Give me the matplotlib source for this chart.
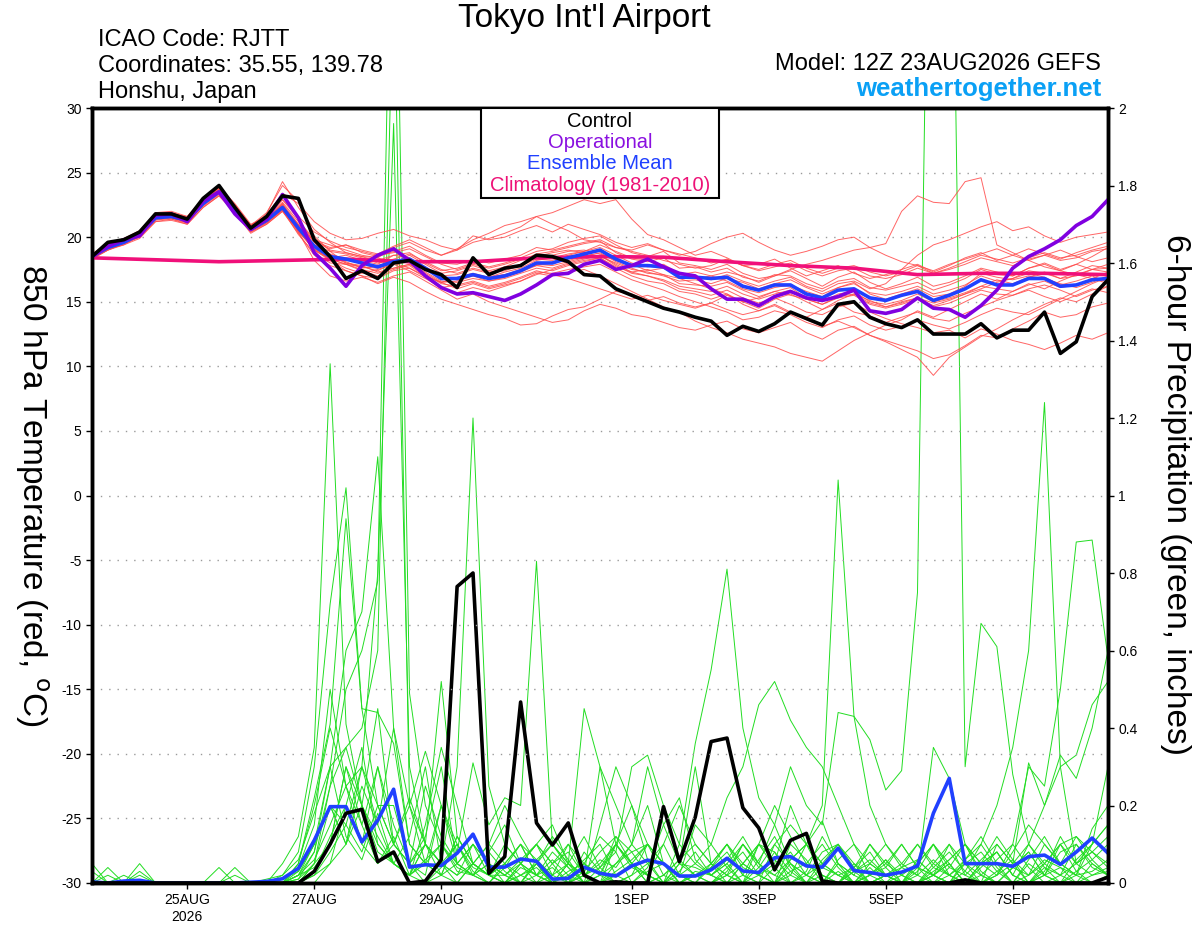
import matplotlib
matplotlib.use('Agg')
import matplotlib.pyplot as plt
from matplotlib.patches import Rectangle
from datetime import datetime, timedelta

plt.rcParams['font.family'] = ['Liberation Sans', 'DejaVu Sans']
plt.rcParams['axes.unicode_minus'] = False

# 6-hourly forecast times, 12Z 23AUG2026 -> 12Z 08SEP2026
start = datetime(2026, 8, 23, 12)
times = [start + timedelta(hours=6 * k) for k in range(65)]

tick_dates = [datetime(2026, 8, 25), datetime(2026, 8, 27), datetime(2026, 8, 29),
              datetime(2026, 9, 1), datetime(2026, 9, 3), datetime(2026, 9, 5),
              datetime(2026, 9, 7)]
tick_labels = ['25AUG\n2026', '27AUG', '29AUG', '1SEP', '3SEP', '5SEP', '7SEP']

# 850 hPa temperature (C)
control_t = [18.5, 19.6, 19.8, 20.4, 21.8, 21.8, 21.4, 23.0, 24.0, 22.3, 20.7, 21.6, 23.2,
             23.0, 19.8, 18.5, 16.8, 17.4, 16.8, 18.0, 18.2, 17.5, 17.1, 16.1, 18.4, 17.1,
             17.6, 17.8, 18.6, 18.5, 18.1, 17.1, 17.0, 16.0, 15.5, 15.0, 14.5, 14.2, 13.8,
             13.5, 12.4, 13.1, 12.7, 13.3, 14.2, 13.7, 13.2, 14.8, 15.0, 13.8, 13.3, 13.0,
             13.6, 12.5, 12.5, 12.5, 13.3, 12.2, 12.8, 12.8, 14.2, 11.0, 11.9, 15.4, 16.7]
oper_t = [18.5, 19.3, 19.8, 20.1, 21.7, 21.8, 21.2, 22.8, 23.5, 21.8, 20.6, 21.4, 23.3,
          21.5, 18.8, 17.6, 16.2, 17.8, 18.6, 19.1, 18.2, 17.0, 16.1, 15.6, 15.7, 15.4,
          15.1, 15.6, 16.3, 17.1, 17.2, 17.9, 18.2, 17.5, 17.8, 18.3, 17.7, 17.2, 17.0,
          16.0, 15.2, 15.2, 14.7, 15.4, 15.8, 15.3, 15.1, 15.4, 15.9, 14.3, 14.1, 14.4,
          15.3, 14.5, 14.4, 13.8, 14.7, 15.9, 17.6, 18.5, 19.1, 19.8, 20.9, 21.6, 22.9]
mean_t = [18.5, 19.2, 19.6, 20.2, 21.5, 21.6, 21.3, 22.6, 23.5, 22.2, 20.6, 21.3, 22.3,
          20.7, 19.3, 18.5, 18.3, 18.0, 17.7, 18.1, 18.3, 17.6, 16.8, 16.8, 17.1, 16.8,
          17.0, 17.4, 18.0, 18.0, 18.4, 18.7, 19.0, 18.3, 17.8, 17.8, 17.7, 16.9, 16.9,
          16.8, 16.9, 16.2, 15.9, 16.3, 16.3, 15.6, 15.3, 15.9, 16.0, 15.3, 15.1, 15.5,
          15.8, 15.1, 15.5, 16.0, 16.7, 16.3, 16.3, 16.8, 16.8, 16.2, 16.3, 16.7, 16.8]
# daily climatology
clim_t = [18.4, 18.25, 18.1, 18.2, 18.3, 18.1, 18.1, 18.4, 18.5, 18.45, 18.1, 17.8,
          17.6, 17.1, 17.2, 17.2, 17.1]

member_t = [
    [18.3, 19.0, 19.5, 20.0, 21.2, 21.4, 21.0, 22.3, 23.2, 22.0, 20.4, 21.0, 22.0,
     20.5, 19.0, 18.4, 18.6, 18.2, 17.9, 18.6, 18.8, 18.0, 17.4, 17.6, 18.0, 17.7,
     18.0, 18.4, 18.9, 19.1, 19.6, 19.9, 20.1, 19.4, 18.8, 18.5, 18.9, 18.0, 17.8,
     17.5, 17.9, 17.2, 16.8, 17.0, 17.4, 16.8, 16.2, 16.9, 17.3, 16.5, 16.0, 16.4,
     16.9, 16.2, 16.5, 17.0, 17.6, 17.3, 17.0, 17.6, 17.9, 17.4, 17.1, 17.5, 17.9],
    [18.6, 19.4, 19.8, 20.4, 21.7, 21.8, 21.5, 22.8, 23.7, 22.4, 20.8, 21.5, 22.6,
     20.4, 18.2, 17.0, 16.6, 16.9, 16.5, 17.0, 17.3, 16.6, 15.9, 15.2, 15.6, 15.0,
     14.6, 14.2, 13.8, 13.4, 13.6, 14.3, 14.8, 14.5, 14.0, 13.8, 13.4, 13.0, 12.8,
     13.2, 13.5, 12.9, 12.6, 13.0, 13.4, 12.6, 12.1, 12.8, 13.1, 12.4, 12.0, 11.6,
     11.2, 10.6, 10.9, 11.6, 12.4, 12.2, 12.9, 13.5, 14.2, 13.8, 14.0, 14.6, 14.9],
    [18.4, 19.1, 19.4, 20.1, 21.4, 21.4, 21.1, 22.5, 23.4, 22.0, 20.5, 21.2, 22.4,
     21.0, 19.8, 19.4, 19.0, 18.6, 18.4, 19.2, 19.6, 19.0, 18.6, 19.1, 19.8, 20.3,
     20.9, 21.2, 21.6, 21.9, 22.4, 22.9, 22.6, 22.9, 21.4, 20.2, 19.8, 19.2, 18.6,
     18.9, 18.4, 17.8, 17.9, 18.3, 17.6, 17.0, 17.4, 17.8, 17.2, 16.8, 17.1, 17.5,
     17.9, 17.3, 17.8, 18.4, 18.8, 18.2, 18.6, 19.1, 18.7, 18.3, 18.8, 19.2, 19.6],
    [18.7, 19.5, 19.9, 20.5, 21.9, 22.0, 21.6, 23.0, 23.9, 22.6, 21.0, 21.6, 22.9,
     21.4, 19.6, 18.2, 17.4, 17.0, 16.4, 16.9, 16.5, 15.8, 15.2, 14.8, 14.4, 14.0,
     13.7, 13.2, 13.3, 13.9, 14.4, 14.6, 15.2, 15.8, 15.6, 15.1, 15.4, 14.9, 14.6,
     14.9, 15.5, 15.0, 14.5, 15.2, 15.6, 15.0, 14.4, 15.1, 15.6, 15.1, 14.6, 14.9,
     15.3, 14.7, 15.1, 15.6, 16.2, 16.7, 16.4, 16.9, 17.3, 16.8, 17.0, 17.5, 17.6],
    [18.5, 19.3, 19.7, 20.3, 21.6, 21.7, 21.4, 22.7, 23.6, 22.3, 20.6, 21.4, 22.5,
     20.9, 19.4, 18.9, 18.7, 18.4, 18.0, 18.3, 18.7, 18.1, 17.5, 17.2, 17.6, 17.3,
     17.5, 17.9, 18.4, 18.6, 18.9, 19.0, 18.7, 18.2, 17.9, 17.4, 17.6, 17.2, 16.8,
     17.0, 17.3, 17.0, 16.5, 17.0, 17.5, 17.9, 18.2, 18.6, 19.0, 19.2, 19.5, 22.0,
     23.2, 22.7, 22.6, 24.3, 24.6, 19.4, 18.8, 18.2, 17.7, 17.4, 17.9, 17.5, 17.3],
    [18.4, 19.2, 19.6, 20.2, 21.5, 21.5, 21.2, 22.6, 23.5, 22.1, 20.5, 21.1, 22.1,
     20.2, 18.8, 18.0, 17.9, 17.4, 17.0, 17.5, 17.8, 17.0, 16.5, 16.0, 16.4, 16.0,
     16.3, 16.6, 17.2, 17.0, 17.3, 17.5, 17.0, 16.4, 15.8, 15.2, 14.6, 14.2, 13.5,
     13.0, 12.6, 12.1, 11.8, 11.5, 11.0, 10.7, 10.4, 11.2, 12.0, 12.6, 13.2, 13.6,
     14.3, 13.8, 14.4, 15.0, 15.6, 15.2, 15.8, 16.4, 16.0, 16.6, 17.1, 16.8, 17.3],
    [18.6, 19.3, 19.7, 20.3, 21.6, 21.7, 21.4, 22.6, 23.4, 22.3, 20.7, 21.4, 22.4,
     20.8, 19.2, 18.6, 18.1, 17.6, 17.8, 18.2, 18.0, 17.2, 16.5, 16.6, 17.0, 16.6,
     16.8, 17.2, 17.6, 17.4, 17.8, 18.1, 18.4, 17.6, 17.0, 16.6, 16.4, 15.8, 15.6,
     15.2, 15.6, 14.8, 14.3, 14.8, 14.2, 13.6, 13.1, 13.5, 13.0, 12.4, 11.9, 11.3,
     10.7, 9.3, 10.7, 11.5, 12.3, 12.9, 13.6, 14.2, 14.8, 15.3, 15.0, 15.6, 16.2],
    [18.5, 19.2, 19.6, 20.3, 21.5, 21.7, 21.3, 22.6, 23.5, 22.2, 20.7, 21.3, 22.3,
     20.9, 19.7, 19.2, 19.4, 18.8, 18.5, 18.9, 19.3, 18.6, 18.0, 17.9, 18.3, 18.0,
     18.3, 18.6, 19.2, 19.0, 19.3, 19.6, 19.8, 19.2, 19.0, 19.4, 19.0, 18.6, 18.9,
     19.5, 20.0, 20.3, 19.6, 19.0, 18.6, 18.9, 19.3, 19.8, 20.0, 19.2, 18.6, 18.1,
     17.8, 17.4, 17.9, 18.3, 18.7, 19.1, 18.6, 18.2, 18.6, 19.0, 18.5, 18.1, 18.4],
    [18.4, 19.0, 19.5, 20.0, 21.3, 21.5, 21.2, 22.4, 23.3, 22.1, 20.5, 21.2, 22.2,
     20.6, 19.0, 18.2, 17.6, 17.2, 17.5, 17.9, 17.4, 16.8, 16.1, 16.3, 16.6, 16.2,
     16.5, 16.9, 17.4, 17.1, 16.8, 16.4, 16.0, 15.6, 15.2, 15.5, 15.1, 14.8, 14.5,
     14.9, 14.4, 14.0, 14.3, 14.7, 14.1, 13.8, 14.4, 14.9, 14.2, 13.9, 13.4, 13.8,
     14.2, 13.7, 13.5, 14.1, 14.6, 15.1, 15.5, 15.9, 15.4, 15.0, 15.5, 16.0, 15.7],
    [18.6, 19.4, 19.9, 20.4, 21.7, 21.9, 21.5, 22.8, 23.8, 22.4, 20.9, 21.6, 22.7,
     21.2, 19.9, 19.0, 18.8, 18.5, 18.1, 18.0, 18.6, 17.9, 17.2, 17.4, 17.8, 17.4,
     17.7, 18.2, 18.7, 18.9, 19.2, 19.5, 19.7, 18.8, 18.3, 18.1, 18.4, 17.6, 17.7,
     17.3, 17.6, 16.9, 16.6, 17.1, 17.0, 16.4, 16.0, 16.6, 16.8, 16.1, 15.9, 16.2,
     16.5, 15.9, 16.3, 16.8, 17.5, 17.1, 17.0, 17.6, 18.0, 17.5, 17.9, 18.5, 19.2],
    [18.5, 19.3, 19.7, 20.2, 21.5, 21.6, 21.3, 22.7, 23.6, 22.3, 20.6, 21.3, 22.4,
     20.7, 19.4, 18.7, 18.3, 18.0, 18.2, 18.6, 18.4, 17.7, 17.0, 17.1, 17.5, 17.2,
     17.4, 17.8, 18.3, 18.2, 18.6, 18.9, 19.2, 18.6, 18.0, 17.7, 17.9, 17.2, 17.0,
     16.7, 17.1, 16.6, 16.2, 16.6, 16.9, 16.2, 15.8, 16.4, 16.6, 16.0, 16.4, 17.5,
     18.6, 19.4, 19.8, 20.3, 20.8, 21.2, 20.5, 20.8, 20.1, 19.6, 20.0, 20.2, 20.4],
    [18.4, 19.1, 19.5, 20.1, 21.4, 21.5, 21.1, 22.5, 23.4, 22.1, 20.4, 21.1, 22.1,
     20.4, 19.1, 18.5, 18.0, 17.8, 17.3, 17.6, 17.9, 17.3, 16.6, 16.5, 16.8, 16.6,
     16.9, 17.3, 17.8, 17.6, 18.0, 18.3, 18.6, 17.8, 17.2, 17.0, 16.6, 16.0, 15.8,
     15.5, 15.9, 15.3, 14.9, 15.3, 14.8, 14.2, 14.0, 14.6, 14.9, 14.2, 13.7, 13.3,
     13.0, 12.6, 12.8, 12.2, 12.9, 12.5, 12.0, 11.7, 11.3, 11.8, 12.4, 12.1, 12.6],
    [18.7, 19.5, 19.8, 20.5, 21.8, 21.9, 21.5, 22.9, 23.8, 22.5, 20.9, 21.6, 22.9,
     21.6, 20.4, 19.7, 19.2, 18.9, 18.6, 18.8, 19.1, 18.5, 17.9, 17.5, 17.9, 17.6,
     17.9, 18.3, 18.5, 18.8, 19.0, 18.8, 18.5, 18.0, 17.5, 17.3, 17.0, 16.6, 16.7,
     16.4, 16.8, 16.5, 16.0, 16.4, 16.7, 16.1, 15.6, 16.1, 16.4, 15.7, 15.5, 15.8,
     16.2, 15.6, 15.9, 16.3, 17.0, 16.6, 16.8, 17.4, 17.2, 16.8, 17.3, 17.8, 17.6],
    [18.3, 19.0, 19.4, 19.9, 21.2, 21.3, 21.0, 22.3, 23.2, 21.9, 20.3, 21.0, 22.0,
     20.3, 18.6, 17.8, 17.4, 17.0, 16.8, 17.4, 17.6, 16.9, 16.0, 15.7, 16.1, 15.8,
     16.2, 16.6, 17.1, 17.5, 17.9, 18.2, 18.4, 17.7, 17.3, 17.5, 17.1, 16.4, 16.3,
     16.2, 16.5, 15.9, 15.4, 15.8, 16.1, 15.3, 15.0, 15.6, 15.8, 15.0, 14.8, 15.1,
     15.6, 15.0, 15.3, 15.7, 16.2, 16.0, 15.8, 16.3, 16.6, 16.1, 16.3, 16.8, 16.4],
    [18.6, 19.4, 19.7, 20.4, 21.7, 21.8, 21.6, 22.9, 23.7, 22.5, 20.9, 21.7, 23.4,
     22.6, 21.2, 20.3, 19.8, 19.9, 20.3, 20.6, 20.1, 19.8, 19.3, 19.0, 19.6, 19.9,
     20.3, 20.8, 21.6, 21.0, 20.5, 19.8, 19.6, 19.2, 18.9, 18.6, 18.2, 17.9, 17.6,
     17.8, 18.3, 17.8, 17.4, 17.7, 18.0, 17.4, 17.0, 17.4, 17.6, 17.0, 16.8, 17.1,
     17.6, 17.2, 17.6, 18.1, 18.6, 18.3, 18.0, 18.4, 18.8, 18.4, 18.6, 19.0, 19.3],
    [18.5, 19.3, 19.6, 20.3, 21.5, 21.8, 21.5, 22.8, 23.6, 22.4, 20.8, 21.8, 24.3,
     22.3, 20.6, 19.6, 18.8, 18.5, 18.4, 18.0, 17.6, 17.0, 16.5, 16.9, 17.2, 16.9,
     17.1, 17.5, 17.8, 18.0, 18.2, 18.5, 18.8, 18.1, 17.6, 17.2, 17.1, 16.8, 16.4,
     16.0, 15.6, 15.0, 15.3, 15.8, 15.5, 15.2, 14.8, 15.4, 15.6, 14.9, 14.6, 15.0,
     15.3, 14.9, 15.2, 15.6, 16.0, 16.5, 16.8, 17.2, 16.9, 16.3, 16.6, 17.0, 16.5],
    [18.6, 19.2, 19.8, 20.2, 21.6, 21.5, 21.2, 22.5, 23.4, 22.0, 20.9, 21.9, 24.0,
     22.8, 20.1, 18.9, 18.0, 17.7, 17.4, 18.0, 18.2, 17.6, 17.0, 16.7, 17.0, 16.9,
     17.3, 17.6, 18.2, 18.4, 18.7, 18.9, 19.4, 18.9, 18.4, 18.2, 17.8, 17.1, 17.3,
     17.0, 16.6, 16.0, 15.7, 16.1, 16.3, 15.8, 15.4, 16.1, 16.5, 15.6, 15.2, 15.6,
     16.0, 15.4, 15.6, 16.2, 17.2, 16.9, 16.7, 17.0, 16.8, 16.4, 16.1, 16.5, 17.0],
    [18.4, 19.1, 19.6, 20.1, 21.4, 21.6, 21.3, 22.6, 23.5, 22.2, 20.6, 21.2, 22.2,
     20.5, 19.0, 18.3, 17.9, 17.5, 17.2, 17.6, 17.9, 17.1, 16.4, 16.2, 16.5, 16.1,
     16.4, 16.8, 17.3, 17.2, 17.5, 17.7, 17.9, 17.3, 16.7, 16.3, 15.9, 15.4, 15.0,
     14.6, 14.2, 13.6, 13.8, 14.3, 14.0, 13.4, 13.0, 13.6, 13.9, 13.2, 12.8, 13.1,
     13.6, 13.2, 12.9, 13.4, 14.0, 14.5, 14.2, 14.0, 14.6, 15.2, 15.8, 16.4, 16.9],
    [18.5, 19.2, 19.7, 20.2, 21.6, 21.6, 21.4, 22.7, 23.5, 22.3, 20.7, 21.4, 22.6,
     21.0, 19.6, 19.1, 19.4, 19.0, 18.7, 19.3, 19.8, 19.2, 18.6, 19.0, 20.1, 19.8,
     20.0, 20.5, 20.9, 20.4, 21.0, 20.6, 20.2, 19.6, 19.2, 19.5, 19.0, 18.7, 18.4,
     18.0, 18.3, 17.8, 17.5, 17.9, 18.2, 17.6, 17.2, 17.6, 17.8, 17.3, 17.0, 17.3,
     17.8, 17.2, 17.5, 17.9, 18.4, 18.1, 17.8, 18.3, 18.6, 18.2, 18.4, 18.9, 19.1],
    [18.5, 19.3, 19.6, 20.2, 21.5, 21.7, 21.3, 22.6, 23.5, 22.2, 20.6, 21.4, 22.5,
     20.6, 19.1, 18.3, 17.9, 17.7, 17.6, 18.0, 18.2, 17.5, 16.9, 16.7, 17.1, 16.9,
     17.1, 17.4, 17.9, 17.8, 18.1, 18.4, 18.6, 17.9, 17.3, 17.0, 16.7, 16.2, 16.0,
     15.8, 16.2, 15.6, 15.2, 15.6, 15.9, 15.2, 14.8, 15.3, 15.5, 14.8, 14.5, 14.8,
     15.2, 14.6, 14.9, 15.4, 15.9, 15.6, 15.5, 16.0, 16.3, 15.9, 15.4, 15.9, 16.2],
]

# 6-hour precipitation (inches)
control_p = [0, 0, 0, 0, 0, 0, 0, 0, 0, 0, 0, 0, 0,
             0, .03, .1, .18, .19, .055, .08, 0, .005, .06, .765, .8, .025,
             .068, .467, .155, .098, .155, .02, 0, .003, 0, 0, .197, .055, .17,
             .365, .374, .194, .142, .034, .11, .128, .005, 0, 0, 0, 0, 0,
             0, 0, 0, .008, 0, 0, 0, 0, 0, 0, 0, 0, .015]
mean_p = [.003, 0, .005, .007, 0, 0, 0, 0, 0, 0, .002, .004, .011,
          .038, .11, .197, .197, .106, .162, .242, .041, .047, .045, .077, .126, .041,
          .041, .062, .056, .01, .012, .041, .025, .018, .044, .059, .05, .018, .018,
          .034, .064, .031, .027, .065, .068, .044, .041, .09, .032, .027, .02, .028,
          .044, .18, .27, .05, .05, .05, .043, .068, .072, .048, .08, .116, .077]

member_p = [
    [0, .02, 0, 0, 0, 0, 0, 0, 0, 0, 0, 0, .05,
     .12, .35, 1.34, .41, .2, .08, .05, .02, 0, .04, .1, .03, 0,
     0, .02, .05, 0, 0, .08, .03, 0, .02, .1, .05, 0, 0,
     0, .02, 0, .06, .12, .04, 0, 0, .03, 0, 0, .02, 0,
     0, .05, .1, .02, 0, 0, .04, .08, .02, 0, .03, .06, .1],
    [0, 0, 0, .05, 0, 0, 0, 0, 0, 0, 0, .01, .02,
     .08, .3, .72, 1.02, .45, .2, .2, .05, .12, .3, .05, .02, 0,
     .05, .1, .02, 0, 0, .05, .12, .08, 0, 0, .02, .06, .02,
     0, 0, .05, .02, 0, .1, .06, 0, 0, .05, .02, 0, 0,
     .04, .02, 0, .06, .12, .05, 0, 0, .02, .08, .1, .04, .02],
    [.03, 0, 0, .03, 0, 0, 0, 0, 0, .04, 0, 0, 0,
     .05, .22, .41, .94, .45, .44, .36, .1, .05, .02, .12, .05, .02,
     0, .05, .1, .02, .05, 0, .15, .3, .2, .06, 0, 0, .03,
     .02, 0, 0, .1, .08, 0, .02, .05, .1, .05, 0, 0, .02,
     0, .02, .06, .1, .03, 0, 0, .05, .02, 0, .06, .1, .15],
    [0, 0, 0, 0, 0, 0, 0, 0, 0, 0, 0, 0, 0,
     .02, .08, .25, .5, .6, .78, 2.9, .49, .2, .1, .05, .02, .08,
     .03, 0, .05, .12, .06, 0, .02, 0, 0, .03, .05, 0, 0,
     .04, .08, .02, 0, 0, .05, 0, .02, 0, 0, .04, 0, 0,
     0, .02, .05, 0, 0, .03, .06, 0, .04, .02, 0, .05, .02],
    [0, 0, .02, 0, 0, 0, 0, 0, 0, 0, 0, 0, 0,
     .04, .15, .5, .25, .3, .8, 1.96, .3, .1, .52, .12, .05, .02,
     .05, .02, 0, .05, .1, .02, 0, .05, .08, .1, .05, .02, 0,
     0, .03, .1, .05, .02, 0, 0, .06, .1, .04, 0, .02, .05,
     .1, .04, .02, 0, .05, .08, .02, 0, .03, .12, .05, .02, .04],
    [0, 0, 0, 0, 0, 0, 0, 0, 0, 0, 0, 0, .01,
     .03, .1, .3, .35, .4, .6, 2.4, .2, .34, .2, .05, .1, .02,
     0, .04, .02, 0, .05, .12, .04, 0, .02, .05, 0, .03, .08,
     .02, 0, .05, .1, .04, 0, .03, .12, .05, 0, .02, .06, 0,
     .03, .1, .05, 0, .02, .06, .1, .04, 0, .02, .05, .08, .04],
    [0, 0, 0, 0, 0, 0, 0, 0, .04, 0, 0, 0, 0,
     0, .05, .1, .3, .15, .05, .1, .2, .1, .05, .3, 1.2, .25,
     .1, .05, .02, 0, .05, .02, 0, .03, .06, .1, .02, 0, 0,
     .05, .02, 0, 0, .04, .08, .02, 0, 0, .03, .06, .02, 0,
     0, .04, .08, .03, 0, .02, .05, .1, .04, 0, .02, .03, .06],
    [0, 0, 0, 0, 0, 0, 0, 0, 0, 0, 0, 0, 0,
     .05, .2, .4, .25, .15, .3, .1, .05, .02, .2, .08, .31, .15,
     .22, .2, .83, .1, .05, .02, .04, .1, .05, 0, 0, .02, .05,
     .1, .04, 0, .02, .08, .03, 0, 0, .05, .02, 0, 0, .04,
     .06, .02, 0, .05, .08, .03, 0, .02, .06, .04, 0, .02, .03],
    [0, 0, 0, 0, 0, 0, 0, 0, 0, 0, 0, 0, 0,
     0, .03, .12, .2, .35, .1, .05, .02, .1, .05, 0, .05, .02,
     0, .05, .1, .15, .05, .45, .3, .1, .05, .02, 0, .1, .36,
     .55, .81, .4, .22, .15, .05, .02, .08, .1, .03, 0, .02, 0,
     0, .02, .05, 0, 0, .1, .05, 0, .02, .04, .02, 0, 0],
    [0, 0, 0, 0, 0, 0, 0, 0, 0, 0, 0, 0, 0,
     .02, .1, .2, .1, .3, .15, .05, .12, .3, .05, .02, .1, .05,
     .02, 0, .05, .1, .05, .02, .3, .2, .1, .05, .1, .02, .15,
     .1, .22, .3, .46, .52, .42, .35, .3, .2, .1, .05, .02, 0,
     .05, .1, .02, 0, .04, .08, .02, 0, .05, .1, .12, .06, .02],
    [0, 0, 0, 0, 0, 0, 0, 0, 0, 0, 0, 0, 0,
     0, .02, .05, .1, .2, .45, .1, .05, 0, .02, .05, .1, .05,
     0, .02, .04, 0, .03, .05, .02, .1, .05, .02, 0, .05, .3,
     .05, .1, .02, 0, .1, .15, .1, .2, 1.04, .43, .37, .24, .29,
     .75, 3.5, 3.2, .3, .67, .61, .28, .1, .05, .02, .1, .05, .02],
    [0, 0, 0, 0, 0, 0, 0, 0, 0, 0, 0, 0, 0,
     0, 0, .05, .2, .1, .3, .15, .05, .1, .02, 0, .05, .1,
     .05, 0, .02, .08, .04, 0, 0, .02, .05, .1, .05, 0, .02,
     .04, .1, .05, .02, 0, .06, .1, .02, 0, .03, .05, .02, .04,
     .1, .05, .02, .06, .1, .2, .35, .6, 1.24, .3, .05, .1, .15],
    [0, 0, 0, 0, 0, 0, 0, 0, 0, 0, 0, 0, 0,
     .02, .04, .1, .3, .2, .12, .05, .02, .06, .1, .04, .02, 0,
     .04, .1, .06, .02, 0, .03, .08, .12, .05, 0, .02, .06, .1,
     .05, 0, .02, .1, .06, .02, 0, .04, .02, 0, .05, .1, .04,
     .02, 0, .04, .1, .05, .02, .1, .3, .25, .5, .88, .885, .58],
    [0, 0, 0, 0, 0, 0, 0, 0, 0, 0, 0, 0, 0,
     0, .02, .08, .15, .3, .2, .1, .22, .1, .05, .02, .05, .02,
     .02, .05, .1, .05, 0, .02, .05, .1, .04, .02, .1, .2, .1,
     .05, .02, .1, .05, .15, .3, .2, .15, .44, .43, .2, .1, .05,
     .02, .35, .27, .1, .05, .08, .02, .1, .2, .3, .33, .46, .52],
    [0, 0, 0, 0, 0, 0, 0, 0, 0, 0, 0, 0, 0,
     .01, .05, .2, .1, .25, .15, .4, .1, .05, .02, .12, .05, .02,
     .1, .05, .02, .06, .02, 0, .04, .08, .3, .33, .2, .1, .05,
     .02, .05, .1, .04, .02, .06, .1, .05, .02, .04, .1, .05, .02,
     .05, .1, .04, .02, .06, .1, .05, .31, .2, .33, .27, .4, .6],
    [0, 0, 0, 0, 0, 0, 0, 0, 0, 0, 0, 0, 0,
     .01, .08, .3, .6, .7, 1.1, .4, .2, .05, .1, .03, .02, .05,
     .02, 0, .06, .1, .04, 0, .02, .05, .1, .2, .05, .02, 0,
     0, .04, .08, .02, 0, .03, .05, .1, .04, 0, .02, .06, .02,
     0, .03, .06, .1, .02, 0, .04, .02, .05, .1, .03, 0, .02],
    [.05, 0, 0, 0, 0, 0, 0, 0, 0, 0, 0, 0, 0,
     .03, .1, .2, .15, .08, .2, .1, .05, .25, .12, .05, .02, .08,
     .15, .05, 0, .02, .1, .05, .02, .12, .08, .02, 0, .05, .04,
     .02, .06, .12, .05, 0, .02, .1, .16, .05, .02, .1, .04, 0,
     .02, .06, .02, 0, .05, .12, .06, .02, .1, .05, .02, .1, .3],
    [0, 0, 0, .02, 0, 0, 0, 0, 0, 0, 0, 0, 0,
     0, .05, .25, .35, .2, .1, .05, .02, .15, .35, .2, .05, .1,
     .2, .12, .05, 0, .02, .06, .1, .02, 0, .04, .15, .22, .06,
     .02, .05, 0, .04, .1, .05, .02, 0, .06, .1, .02, .04, .1,
     .04, .02, .1, .05, 0, .02, .08, .15, .1, .05, .12, .08, .05],
    [0, .04, 0, 0, 0, 0, 0, 0, 0, 0, 0, 0, 0,
     .02, .06, .15, .25, .1, .05, .12, .02, .05, .2, .1, .04, .02,
     .05, .1, .02, .04, 0, .02, .06, .04, .1, .3, .15, .05, .02,
     0, .02, .05, .1, .2, .12, .05, .02, 0, .04, .08, .02, 0,
     .06, .02, 0, .03, .1, .04, 0, .06, .12, .05, .02, .14, .2],
    [0, 0, 0, 0, 0, 0, 0, 0, 0, .02, 0, 0, .02,
     .06, .18, .3, .12, .06, .18, .05, .02, .1, .05, .1, .02, .05,
     .02, .06, .1, .05, .08, .02, 0, .1, .2, .1, .05, 0, .02,
     .05, .1, .04, .02, .05, .2, .1, .05, .02, 0, .02, .05, .1,
     .04, 0, .02, .05, .02, 0, .04, .08, .02, .1, .05, .08, .12],
]

fig = plt.figure(figsize=(12, 9.27), dpi=100)
ax = fig.add_axes([92 / 1200, 44 / 927, 1016 / 1200, 775 / 927])
ax2 = ax.twinx()

# precipitation (right axis)
for m in member_p:
    n = min(len(m), len(times))
    ax2.plot(times[:n], m[:n], color='#22dd22', lw=0.7)
ax2.plot(times, mean_p, color='#2040ff', lw=2.6)
ax2.plot(times, control_p, color='black', lw=2.6)
ax2.set_ylim(0, 2)
ax2.set_yticks([0, 0.2, 0.4, 0.6, 0.8, 1, 1.2, 1.4, 1.6, 1.8, 2])
ax2.set_yticklabels(['0', '0.2', '0.4', '0.6', '0.8', '1', '1.2', '1.4', '1.6', '1.8', '2'])

# temperature (left axis), drawn on top
ax.set_zorder(ax2.get_zorder() + 1)
ax.patch.set_visible(False)
for m in member_t:
    n = min(len(m), len(times))
    ax.plot(times[:n], m[:n], color='#ff4a4a', lw=0.7, alpha=0.85)
ax.plot(times[::4], clim_t, color='#f0107a', lw=2.6)
ax.plot(times, mean_t, color='#2040ff', lw=2.6)
ax.plot(times, oper_t, color='#8000e0', lw=2.6)
ax.plot(times, control_t, color='black', lw=2.6)

ax.set_ylim(-30, 30)
ax.set_yticks(range(-30, 31, 5))
ax.set_xlim(times[0], times[-1])
ax.set_xticks(tick_dates)
ax.set_xticklabels(tick_labels)
ax.grid(axis='y', color='#9a9a9a', linestyle=(0, (1, 5)), lw=1)

for a in (ax, ax2):
    a.tick_params(labelsize=10, length=4, width=1)
    for s in a.spines.values():
        s.set_linewidth(2.5)

# legend box
ax.add_patch(Rectangle((0.383, 0.884), 0.234, 0.116, transform=ax.transAxes,
                       facecolor='white', edgecolor='black', lw=1.5, zorder=10))
leg = [('Control', 'black'), ('Operational', '#8a10e0'),
       ('Ensemble Mean', '#2040ff'), ('Climatology (1981-2010)', '#ee1177')]
for k, (txt, col) in enumerate(leg):
    ax.text(0.5, 0.983 - k * 0.0275, txt, color=col, fontsize=14.5, ha='center',
            va='center', transform=ax.transAxes, zorder=11)

# header text
fig.text(584 / 1200, 1 - 18 / 927, "Tokyo Int'l Airport", fontsize=24,
         ha='center', va='center')
fig.text(98 / 1200, 1 - 40 / 927, 'ICAO Code: RJTT', fontsize=17, va='center')
fig.text(98 / 1200, 1 - 66 / 927, 'Coordinates: 35.55, 139.78', fontsize=17, va='center')
fig.text(98 / 1200, 1 - 92 / 927, 'Honshu, Japan', fontsize=17, va='center')
fig.text(1101 / 1200, 1 - 64 / 927, 'Model: 12Z 23AUG2026 GEFS', fontsize=17,
         ha='right', va='center')
fig.text(1101 / 1200, 1 - 89 / 927, 'weathertogether.net', fontsize=18.5,
         fontweight='bold', color='#0aa0f5', ha='right', va='center')

fig.text(32 / 1200, 1 - 495 / 927, r'850 hPa Temperature (red, $^{\mathsf{o}}$C)',
         fontsize=24, rotation=270, ha='center', va='center')
fig.text(1175 / 1200, 1 - 495 / 927, '6-hour Precipitation (green, inches)',
         fontsize=24, rotation=270, ha='center', va='center')

fig.savefig('out.png', dpi=100)
